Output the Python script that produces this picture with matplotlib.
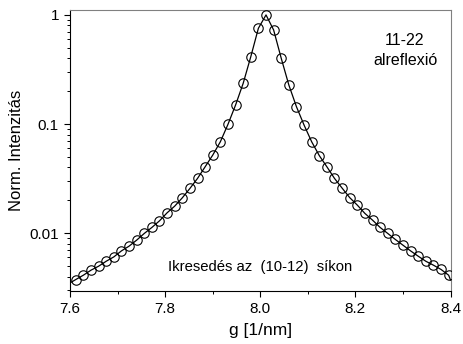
import numpy as np
import matplotlib
matplotlib.use("Agg")
import matplotlib.pyplot as plt
from matplotlib.ticker import FixedLocator, LogLocator, NullFormatter

plt.rcParams['font.family'] = ['Liberation Sans', 'DejaVu Sans']

# measured points (open circles)
g = 7.612 + 0.016 * np.arange(50)
intensity = [
    0.00376, 0.00412, 0.00458, 0.00498, 0.00553, 0.00606, 0.00688, 0.00760,
    0.00863, 0.00994, 0.01128, 0.01297, 0.01536, 0.01769, 0.02108, 0.02570,
    0.03176, 0.04058, 0.05194, 0.06881, 0.09936, 0.1494, 0.2362, 0.4143,
    0.7550, 1.0, 0.7283, 0.4006, 0.2279, 0.1441, 0.0979, 0.06881,
    0.0514, 0.04058, 0.03176, 0.02587, 0.02117, 0.01807, 0.01516, 0.01316,
    0.01128, 0.00994, 0.00875, 0.00776, 0.00688, 0.00615, 0.00553, 0.00509,
    0.00465, 0.00412,
]

# fitted curve: same points plus the ends at the frame
fit_g = [7.6] + list(g) + [8.4]
fit_i = [0.00350] + intensity + [0.00372]

fig = plt.figure(figsize=(4.64, 3.44), dpi=100)
ax = fig.add_axes([0.151, 0.154, 0.820, 0.817])

ax.plot(fit_g, fit_i, color='black', lw=0.9, zorder=2)
ax.plot(g, intensity, 'o', ms=6.8, mfc='none', mec='black', mew=0.8, zorder=3)

ax.set_yscale('log')
ax.set_xlim(7.6, 8.4)
ax.set_ylim(0.00295, 1.11)

ax.xaxis.set_major_locator(FixedLocator([7.6, 7.8, 8.0, 8.2, 8.4]))
ax.xaxis.set_minor_locator(FixedLocator([7.7, 7.9, 8.1, 8.3]))
ax.set_xticklabels(['7.6', '7.8', '8.0', '8.2', '8.4'])
ax.yaxis.set_major_locator(FixedLocator([0.01, 0.1, 1]))
ax.set_yticklabels(['0.01', '0.1', '1'])
ax.yaxis.set_minor_locator(LogLocator(base=10, subs=np.arange(2, 10)))
ax.yaxis.set_minor_formatter(NullFormatter())

ax.tick_params(which='major', direction='out', length=4.5, width=0.8,
               labelsize=11, top=False, right=False)
ax.tick_params(which='minor', direction='out', length=2.5, width=0.7,
               top=False, right=False)

for s in ['top', 'right']:
    ax.spines[s].set_color('0.5')
for s in ['left', 'bottom']:
    ax.spines[s].set_color('black')

ax.set_xlabel('g [1/nm]', fontsize=12.5, labelpad=5)
ax.set_ylabel('Norm. Intenzitás', fontsize=12, labelpad=4)

ax.text(0.879, 0.89, '11-22', transform=ax.transAxes, ha='center',
        va='center', fontsize=11.5)
ax.text(0.882, 0.822, 'alreflexió', transform=ax.transAxes, ha='center',
        va='center', fontsize=11.5)
ax.text(0.499, 0.085, 'Ikresedés az  (10-12)  síkon', transform=ax.transAxes,
        ha='center', va='center', fontsize=10.7)

fig.savefig('out.png', dpi=100)
